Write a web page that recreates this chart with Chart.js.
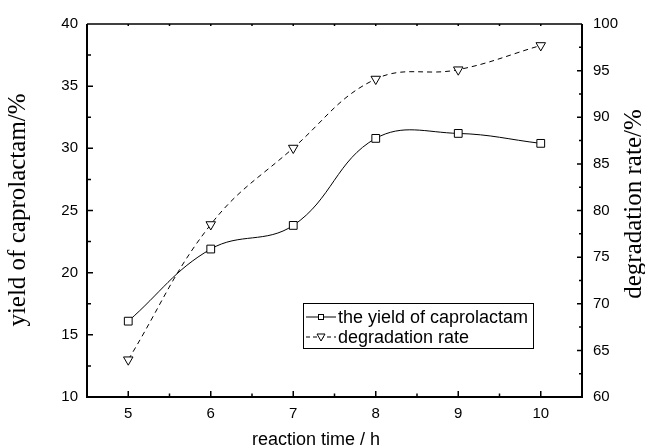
<!DOCTYPE html>
<html lang="en">
  <head>
    <meta charset="UTF-8" />
    <title>Caprolactam yield and degradation rate</title>
    <script src="https://cdn.jsdelivr.net/npm/chart.js"></script>
    <style>
      body {
        margin: 0;
        background: #fff;
      }
      #wrap {
        width: 645px;
        height: 446px;
        position: relative;
      }
    </style>
  </head>
  <body>
    <div id="wrap"><canvas id="chart"></canvas></div>
    <script>
      const hours = [5, 6, 7, 8, 9, 10];
      const yieldCaprolactam = [16.1, 21.9, 23.8, 30.8, 31.2, 30.4];
      const degradationRate = [64.0, 78.5, 86.7, 94.1, 95.1, 97.7];

      const seriesNames = ["the yield of caprolactam", "degradation rate"];
      const xTitle = "reaction time / h";
      const yTitle = "yield of caprolactam/%";
      const y2Title = "degradation rate/%";

      const sans = "'Liberation Sans', Arial, sans-serif";
      const serif = "'Liberation Serif', 'Times New Roman', serif";

      // frame, inward ticks, axis titles, legend box
      const decorations = {
        id: "decorations",
        afterDraw(chart) {
          const ctx = chart.ctx;
          const a = chart.chartArea;
          const sx = chart.scales.x;
          const sy = chart.scales.y;
          const sy2 = chart.scales.y2;
          ctx.save();
          ctx.strokeStyle = "#000";

          // frame
          ctx.lineWidth = 2;
          ctx.beginPath();
          ctx.moveTo(a.left, a.top);
          ctx.lineTo(a.left, a.bottom);
          ctx.lineTo(a.right, a.bottom);
          ctx.lineTo(a.right, a.top);
          ctx.stroke();
          ctx.lineWidth = 1.5;
          ctx.beginPath();
          ctx.moveTo(a.left, a.top);
          ctx.lineTo(a.right, a.top);
          ctx.stroke();

          ctx.lineWidth = 1.5;
          ctx.beginPath();
          // x ticks (bottom + top)
          for (let v = 5; v <= 10.001; v += 0.5) {
            const px = sx.getPixelForValue(v);
            const major = Math.abs(v - Math.round(v)) < 0.01;
            ctx.moveTo(px, a.bottom);
            ctx.lineTo(px, a.bottom - (major ? 6 : 3.5));
            ctx.moveTo(px, a.top);
            ctx.lineTo(px, a.top + 2);
          }
          // left ticks
          for (let v = 12.5; v < 40; v += 2.5) {
            const py = sy.getPixelForValue(v);
            const major = v % 5 === 0;
            ctx.moveTo(a.left, py);
            ctx.lineTo(a.left + (major ? 6 : 4), py);
          }
          // right ticks
          for (let v = 62.5; v < 100; v += 2.5) {
            const py = sy2.getPixelForValue(v);
            const major = v % 5 === 0;
            ctx.moveTo(a.right, py);
            ctx.lineTo(a.right - (major ? 5 : 3), py);
          }
          ctx.stroke();

          // axis titles
          ctx.fillStyle = "#000";
          ctx.textAlign = "center";
          ctx.textBaseline = "alphabetic";
          ctx.font = "18px " + sans;
          ctx.fillText(xTitle, 316, 445);

          ctx.textBaseline = "middle";
          ctx.font = "25px " + serif;
          ctx.save();
          ctx.translate(18, 210);
          ctx.rotate(-Math.PI / 2);
          ctx.fillText(yTitle, 0, 0);
          ctx.restore();
          ctx.save();
          ctx.translate(634, 204);
          ctx.rotate(-Math.PI / 2);
          ctx.fillText(y2Title, 0, 0);
          ctx.restore();

          // legend
          const lx = 303, ly = 303, lw = 230, lh = 45;
          ctx.lineWidth = 1;
          ctx.strokeRect(lx + 0.5, ly + 0.5, lw, lh);
          const rows = [ly + 14, ly + 34];
          ctx.lineWidth = 1;
          // row 1: solid line + square
          ctx.beginPath();
          ctx.moveTo(lx + 3, rows[0]);
          ctx.lineTo(lx + 33, rows[0]);
          ctx.stroke();
          ctx.fillStyle = "#fff";
          ctx.fillRect(lx + 15, rows[0] - 3, 6, 6);
          ctx.strokeRect(lx + 15.5, rows[0] - 2.5, 5, 5);
          // row 2: dashed line + down triangle
          ctx.setLineDash([4, 3]);
          ctx.beginPath();
          ctx.moveTo(lx + 3, rows[1]);
          ctx.lineTo(lx + 33, rows[1]);
          ctx.stroke();
          ctx.setLineDash([]);
          ctx.beginPath();
          ctx.moveTo(lx + 14, rows[1] - 3);
          ctx.lineTo(lx + 22, rows[1] - 3);
          ctx.lineTo(lx + 18, rows[1] + 4);
          ctx.closePath();
          ctx.fill();
          ctx.stroke();

          ctx.fillStyle = "#000";
          ctx.textAlign = "left";
          ctx.textBaseline = "middle";
          ctx.font = "18px " + sans;
          ctx.fillText(seriesNames[0], lx + 35, rows[0] + 1);
          ctx.fillText(seriesNames[1], lx + 35, rows[1] + 1);
          ctx.restore();
        },
      };

      new Chart(document.getElementById("chart"), {
        type: "line",
        data: {
          datasets: [
            {
              label: seriesNames[0],
              data: hours.map((h, i) => ({ x: h, y: yieldCaprolactam[i] })),
              yAxisID: "y",
              borderColor: "#000",
              borderWidth: 1,
              tension: 0.4,
              pointStyle: "rect",
              pointRadius: 5.5,
              pointBackgroundColor: "#fff",
              pointBorderColor: "#000",
              pointBorderWidth: 1,
            },
            {
              label: seriesNames[1],
              data: hours.map((h, i) => ({ x: h, y: degradationRate[i] })),
              yAxisID: "y2",
              borderColor: "#000",
              borderWidth: 1,
              borderDash: [5, 4],
              tension: 0.4,
              pointStyle: "triangle",
              rotation: 180,
              pointRadius: 5.5,
              pointBackgroundColor: "#fff",
              pointBorderColor: "#000",
              pointBorderWidth: 1,
            },
          ],
        },
        options: {
          responsive: true,
          maintainAspectRatio: false,
          animation: false,
          layout: { padding: { top: 24, left: 0, right: 0, bottom: 0 } },
          plugins: {
            legend: { display: false },
            tooltip: { enabled: false },
          },
          scales: {
            x: {
              type: "linear",
              min: 4.5,
              max: 10.5,
              afterBuildTicks: (s) => {
                s.ticks = hours.map((v) => ({ value: v }));
              },
              grid: { display: false, drawTicks: false },
              border: { display: false },
              ticks: {
                padding: 8,
                color: "#000",
                font: { family: sans, size: 15 },
                maxRotation: 0,
              },
              afterFit: (s) => {
                s.height = 49;
              },
            },
            y: {
              position: "left",
              min: 10,
              max: 40,
              grid: { display: false, drawTicks: false },
              border: { display: false },
              ticks: {
                stepSize: 5,
                padding: 9,
                color: "#000",
                font: { family: sans, size: 15 },
              },
              afterFit: (s) => {
                s.width = 87;
              },
            },
            y2: {
              position: "right",
              min: 60,
              max: 100,
              grid: { display: false, drawTicks: false },
              border: { display: false },
              ticks: {
                stepSize: 5,
                padding: 11,
                color: "#000",
                font: { family: sans, size: 15 },
              },
              afterFit: (s) => {
                s.width = 63;
              },
            },
          },
        },
        plugins: [decorations],
      });
    </script>
  </body>
</html>
